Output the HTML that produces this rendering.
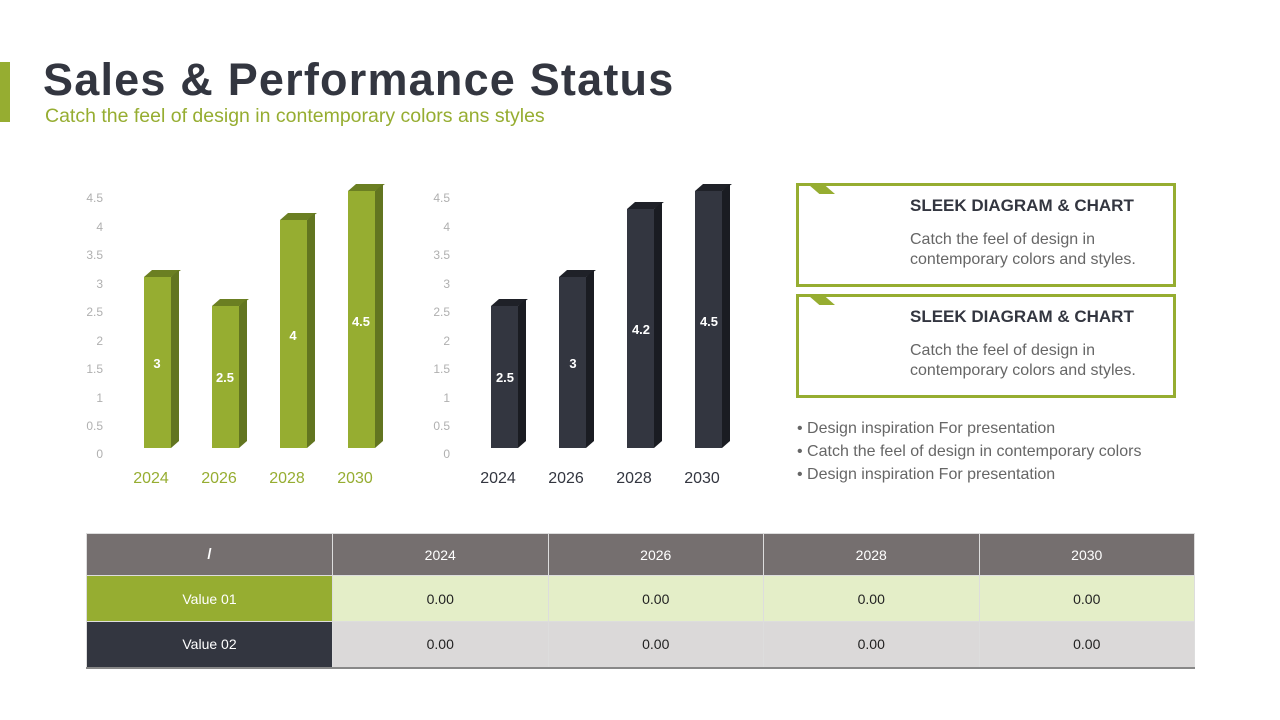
<!DOCTYPE html>
<html><head><meta charset="utf-8"><style>
body{margin:0;width:1280px;height:720px;background:#fff;position:relative;overflow:hidden;font-family:"Liberation Sans",sans-serif}
.abs{position:absolute}
.box{position:absolute;left:796px;width:380px;height:104px;border:3px solid #96ad31;box-sizing:border-box}
.box h3{position:absolute;left:111px;top:10px;margin:0;font-size:17px;color:#333640;font-weight:bold}
.box p{position:absolute;left:111px;top:44px;margin:0;font-size:16px;line-height:20px;color:#666}
.flag{position:absolute;left:10px;top:-1px;width:26px;height:9px;background:#96ad31;clip-path:polygon(0 0,60% 0,100% 100%,40% 100%)}
table{position:absolute;left:86px;top:533px;width:1109px;border-collapse:collapse;font-size:14px;text-align:center}
td{border:1px solid #ddd}
</style></head><body>
<div class="abs" style="left:0;top:62px;width:10px;height:60px;background:#96ad31"></div>
<div class="abs" style="left:43px;top:54px;font-size:45px;font-weight:bold;color:#333640;letter-spacing:1.2px">Sales &amp; Performance Status</div>
<div class="abs" style="left:45px;top:105px;font-size:19.5px;color:#96ad31">Catch the feel of design in contemporary colors ans styles</div>

<svg class="abs" style="left:0;top:0" width="780" height="500" font-family="Liberation Sans, sans-serif">
<g font-size="12" fill="#b0b0b0" text-anchor="end">
<text x="103" y="202">4.5</text><text x="103" y="231">4</text><text x="103" y="259">3.5</text><text x="103" y="288">3</text><text x="103" y="316">2.5</text><text x="103" y="345">2</text><text x="103" y="373">1.5</text><text x="103" y="402">1</text><text x="103" y="430">0.5</text><text x="103" y="458">0</text>
<text x="450" y="202">4.5</text><text x="450" y="231">4</text><text x="450" y="259">3.5</text><text x="450" y="288">3</text><text x="450" y="316">2.5</text><text x="450" y="345">2</text><text x="450" y="373">1.5</text><text x="450" y="402">1</text><text x="450" y="430">0.5</text><text x="450" y="458">0</text>
</g>
<g>
<polygon points="144,277 152,270 181,270 171,277" fill="#6b7f22"/><rect x="144" y="277" width="27" height="171" fill="#96ad31"/><polygon points="171,277 179,270 179,441 171,448" fill="#627520"/>
<polygon points="212,306 220,299 249,299 239,306" fill="#6b7f22"/><rect x="212" y="306" width="27" height="142" fill="#96ad31"/><polygon points="239,306 247,299 247,441 239,448" fill="#627520"/>
<polygon points="280,220 288,213 317,213 307,220" fill="#6b7f22"/><rect x="280" y="220" width="27" height="228" fill="#96ad31"/><polygon points="307,220 315,213 315,441 307,448" fill="#627520"/>
<polygon points="348,191 356,184 385,184 375,191" fill="#6b7f22"/><rect x="348" y="191" width="27" height="257" fill="#96ad31"/><polygon points="375,191 383,184 383,441 375,448" fill="#627520"/>
</g>
<g>
<polygon points="491,306 499,299 528,299 518,306" fill="#1f2128"/><rect x="491" y="306" width="27" height="142" fill="#333640"/><polygon points="518,306 526,299 526,441 518,448" fill="#1a1c22"/>
<polygon points="559,277 567,270 596,270 586,277" fill="#1f2128"/><rect x="559" y="277" width="27" height="171" fill="#333640"/><polygon points="586,277 594,270 594,441 586,448" fill="#1a1c22"/>
<polygon points="627,209 635,202 664,202 654,209" fill="#1f2128"/><rect x="627" y="209" width="27" height="239" fill="#333640"/><polygon points="654,209 662,202 662,441 654,448" fill="#1a1c22"/>
<polygon points="695,191 703,184 732,184 722,191" fill="#1f2128"/><rect x="695" y="191" width="27" height="257" fill="#333640"/><polygon points="722,191 730,184 730,441 722,448" fill="#1a1c22"/>
</g>
<g font-size="13" font-weight="bold" fill="#fff" text-anchor="middle">
<text x="157" y="368">3</text><text x="225" y="382">2.5</text><text x="293" y="340">4</text><text x="361" y="326">4.5</text>
<text x="505" y="382">2.5</text><text x="573" y="368">3</text><text x="641" y="334">4.2</text><text x="709" y="326">4.5</text>
</g>
<g font-size="16" text-anchor="middle" fill="#96ad31">
<text x="151" y="483">2024</text><text x="219" y="483">2026</text><text x="287" y="483">2028</text><text x="355" y="483">2030</text>
</g>
<g font-size="16" text-anchor="middle" fill="#333640">
<text x="498" y="483">2024</text><text x="566" y="483">2026</text><text x="634" y="483">2028</text><text x="702" y="483">2030</text>
</g>
</svg>

<div class="box" style="top:183px"><div class="flag"></div><h3>SLEEK DIAGRAM &amp; CHART</h3><p>Catch the feel of design in<br>contemporary colors and styles.</p></div>
<div class="box" style="top:294px"><div class="flag"></div><h3>SLEEK DIAGRAM &amp; CHART</h3><p>Catch the feel of design in<br>contemporary colors and styles.</p></div>
<div class="abs" style="left:797px;top:417px;font-size:16px;line-height:23px;color:#666">• Design inspiration For presentation<br>• Catch the feel of design in contemporary colors<br>• Design inspiration For presentation</div>

<table>
<tr style="height:42px;background:#756f6f;color:#fff"><td style="width:243px;font-weight:bold;font-size:15px">/</td><td>2024</td><td>2026</td><td>2028</td><td>2030</td></tr>
<tr style="height:46px;background:#e4eec8;color:#222"><td style="background:#96ad31;color:#fff">Value 01</td><td>0.00</td><td>0.00</td><td>0.00</td><td>0.00</td></tr>
<tr style="height:46px;background:#dbd9d9;color:#222;border-bottom:2px solid #888"><td style="background:#333640;color:#fff">Value 02</td><td>0.00</td><td>0.00</td><td>0.00</td><td>0.00</td></tr>
</table>
</body></html>
